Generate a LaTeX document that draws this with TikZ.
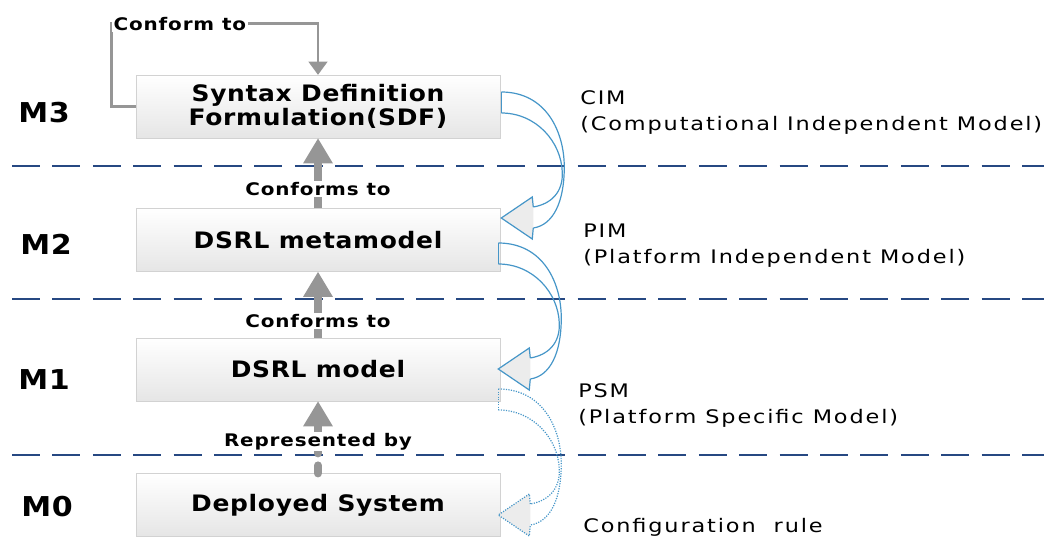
\documentclass[tikz,border=0pt]{standalone}
\usepackage{fontspec}
\setmainfont{DejaVu Sans}
\newfontfamily\boxfont{DejaVu Sans}[FakeStretch=1.1, LetterSpace=3]
\newfontfamily\tagfont{DejaVu Sans}[FakeStretch=1.15, LetterSpace=5]
\newfontfamily\notefont{DejaVu Sans}[FakeStretch=1.2, LetterSpace=10]
\usepackage{tikz}
\usetikzlibrary{arrows.meta, calc, shadows}

\definecolor{sepblue}{RGB}{38,72,130}
\definecolor{flowblue}{RGB}{70,150,200}
\definecolor{shaftgray}{RGB}{150,150,150}

% curved transformation arrow, drawn from the top of its band
\newcommand{\flowarrow}[2][]{%
  \begin{scope}[shift={(#2)}, #1]
    \draw (0,0) .. controls (45,0) and (63,40) .. (63,75) .. controls (63,110) and (52,133) .. (32,136);
    \draw (0,21) .. controls (35,21) and (60,50) .. (61,80) .. controls (62,100) and (50,112) .. (32,115);
    \draw (0,0) -- (0,21);
    \filldraw[fill=gray!15] (32,115) -- (31,105) -- (0,126) -- (31,147) -- (32,136);
  \end{scope}}

\begin{document}
\begin{tikzpicture}[x=0.75pt, y=-0.75pt,
        tier/.style={rectangle, draw=gray!35, top color=white, bottom color=gray!20, minimum width=273pt, minimum height=47pt, align=center, font=\boxfont\bfseries\fontsize{17}{17.5}\selectfont, drop shadow={opacity=0.25, fill=cyan!40!gray, shadow xshift=0.8pt, shadow yshift=-0.8pt}},
        lvl/.style={anchor=west, inner sep=0pt, font=\boxfont\bfseries\fontsize{20.5}{22}\selectfont},
        tag/.style={fill=white, text=black, inner sep=1pt, font=\tagfont\bfseries\fontsize{13}{14}\selectfont},
        note/.style={anchor=west, inner sep=0pt, align=left, font=\notefont\fontsize{14}{19.5}\selectfont},
        divider/.style={sepblue, line width=2.2pt, dash pattern=on 21pt off 9.3pt},
        conform/.style={shaftgray, line width=6pt, -{Triangle[width=21pt, length=19pt]}},
        selfref/.style={shaftgray, line width=2.2pt, -{Triangle[width=14pt, length=10pt]}},
        flow/.style={draw=flowblue, line width=0.9pt}]
    \useasboundingbox (0,0) rectangle (1044,538);

    % level separators
    \draw[divider] (12,166) -- (1060,166);
    \draw[divider] (12,299) -- (1060,299);
    \draw[divider] (12,455) -- (1060,455);

    \node[lvl] (m3) at (18,112.5) {M3};
    \node[lvl] (m2) at (20,244) {M2};
    \node[lvl] (m1) at (18,380) {M1};
    \node[lvl] (m0) at (21,507) {M0};

    \node[tier] (sdf) at (318,106.5) {Syntax Definition\\Formulation(SDF)};
    \node[tier] (meta) at (318,240) {DSRL metamodel};
    \node[tier] (model) at (318,369.5) {DSRL model};
    \node[tier] (sys) at (318,505) {Deployed System};

    % conformance between levels
    \draw[selfref] (sdf.west) -- ++(-24,0) |- ($(sdf.north)+(0,-51)$) -- (sdf.north);
    \node[tag, anchor=west] (conf) at (112,24) {Conform to};
    \draw[conform] (meta.north) -- node[tag, pos=0.27] (c2) {Conforms to} (sdf.south);
    \draw[conform] (model.north) -- node[tag, pos=0.25] (c1) {Conforms to} (meta.south);
    \draw[conform, dash pattern=on 6pt off 9pt, line cap=round] (sys.north) -- node[tag, pos=0.44] (rep) {Represented by} (model.south);

    % model transformations
    \flowarrow[flow]{$(sdf.east)+(1,-14.5)$}
    \flowarrow[flow]{$(meta.east)+(-2,3)$}
    \flowarrow[flow, densely dotted]{$(model.east)+(-2,19.5)$}

    \node[note] (cim) at (580,113) {CIM\\(Computational Independent Model)};
    \node[note] (pim) at (583,246) {PIM\\(Platform Independent Model)};
    \node[note] (psm) at (578,405.5) {PSM\\(Platform Specific Model)};
    \node[note] (rule) at (583,527) {Configuration~~rule};
\end{tikzpicture}
\end{document}
